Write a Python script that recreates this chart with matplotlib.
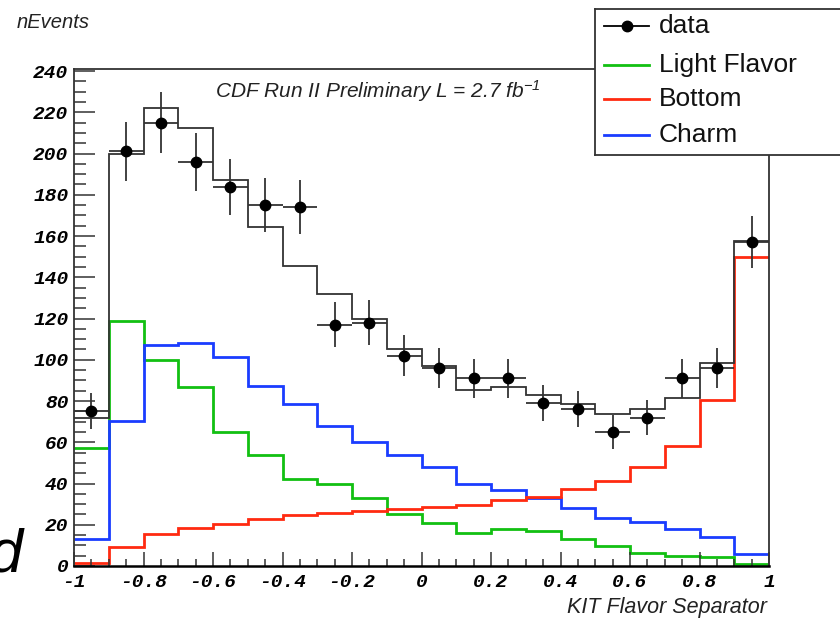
import numpy as np
import matplotlib
matplotlib.use("Agg")
import matplotlib.pyplot as plt
from matplotlib.ticker import MultipleLocator

plt.rcParams['mathtext.fontset'] = 'custom'
plt.rcParams['mathtext.rm'] = 'Liberation Sans:italic'
plt.rcParams['mathtext.it'] = 'Liberation Sans:italic'

# 20 bins of KIT flavor separator, -1 .. 1
edges = np.round(np.linspace(-1, 1, 21), 2)
light = [57, 119, 100, 87, 65, 54, 42, 40, 33, 25, 21, 16, 18, 17, 13, 9.5, 6.5, 5, 4.5, 1]
bottom = [1.6, 9.4, 15.5, 18.6, 20.4, 23, 24.6, 25.5, 26.7, 27.5, 28.8, 29.6, 32, 33.6, 37.5, 41.2, 47.8, 58, 80.5, 150]
charm = [13, 70.5, 107, 108, 101.5, 87.5, 78.5, 68, 60, 54, 48, 40, 37, 33, 28, 23.5, 21.5, 18, 14, 6]
mc_total = [71.6, 200, 222, 212.5, 187, 164.5, 145.6, 132, 119.6, 105, 97, 85.3, 86.6, 83, 78.5, 73.7, 76, 81.3, 98.3, 157.5]
data = [75, 201, 215, 196, 184, 175, 174, 117, 118, 102, 96, 91, 91, 79, 76, 65, 72, 91, 96, 157]
data_err = [8.7, 14.2, 14.7, 14.0, 13.6, 13.2, 13.2, 10.8, 10.9, 10.1, 9.8, 9.5, 9.5, 8.9, 8.7, 8.1, 8.5, 9.5, 9.8, 12.5]

GREEN = '#12c012'
RED = '#ff2a10'
BLUE = '#1a3cff'
DARK = '#333333'

fig = plt.figure(figsize=(8.4, 6.18), dpi=100)
ax = fig.add_axes([74/840, 1-566/618, 695/840, 497/618])

ax.stairs(light, edges, baseline=None, color=GREEN, lw=2.0)
ax.stairs(charm, edges, baseline=None, color=BLUE, lw=2.0)
ax.stairs(bottom, edges, baseline=None, color=RED, lw=2.0)
ax.stairs(mc_total, edges, baseline=None, color=DARK, lw=1.3)

centers = (edges[:-1] + edges[1:]) / 2
halfw = np.diff(edges) / 2
ax.errorbar(centers, data, xerr=halfw, yerr=data_err, fmt='o', color='black',
            ecolor=DARK, elinewidth=1.3, capsize=0, markersize=7.5, zorder=5)

ax.set_xlim(-1, 1)
ax.set_ylim(0, 241)
ax.xaxis.set_major_locator(MultipleLocator(0.2))
ax.xaxis.set_minor_locator(MultipleLocator(0.05))
ax.yaxis.set_major_locator(MultipleLocator(20))
ax.yaxis.set_minor_locator(MultipleLocator(5))
ax.xaxis.set_major_formatter(lambda v, p: '%g' % round(v, 2))
ax.tick_params(axis='both', which='both', direction='in', top=False, right=False, color=DARK)
ax.tick_params(axis='y', which='major', length=15, width=1.1, pad=4)
ax.tick_params(axis='y', which='minor', length=8.5, width=1.1)
ax.tick_params(axis='x', which='major', length=10, width=1.1, pad=6)
ax.tick_params(axis='x', which='minor', length=5, width=1.1)
for lab in ax.get_xticklabels() + ax.get_yticklabels():
    lab.set_fontfamily('Liberation Mono')
    lab.set_fontstyle('italic')
    lab.set_fontweight('bold')
    lab.set_fontsize(14)
for s in ax.spines.values():
    s.set_color(DARK)
    s.set_linewidth(1.3)
ax.spines['bottom'].set_color('black')
ax.spines['bottom'].set_linewidth(1.8)

ax.text(0.203, 0.955, r'CDF Run II Preliminary L = 2.7 fb$^{-1}$', transform=ax.transAxes,
        family='Liberation Sans', style='italic', fontsize=15, va='center', ha='left', color='#222222')

fig.text(17/840, 1-22/618, 'nEvents', family='Liberation Sans', style='italic',
         fontsize=14.5, va='center', ha='left', color='#222222')
fig.text(767/840, 1-607/618, 'KIT Flavor Separator', family='Liberation Sans', style='italic',
         fontsize=15.5, va='center', ha='right', color='#222222')
fig.text(23/840, 1-571/618, 'd', family='Liberation Sans', style='italic',
         fontsize=44, va='baseline', ha='right', color='black')

# legend box (runs off the right edge like the reference)
lg = fig.add_axes([595/840, 1-155/618, 300/840, 146/618], zorder=10)
lg.set_xlim(595, 895)
lg.set_ylim(155, 9)
lg.set_xticks([])
lg.set_yticks([])
for s in lg.spines.values():
    s.set_color(DARK)
    s.set_linewidth(1.3)
entries = [('data', 26, 'black'), ('Light Flavor', 65, GREEN),
           ('Bottom', 99, RED), ('Charm', 135, BLUE)]
for name, yy, col in entries:
    lg.plot([604, 649], [yy, yy], color=col, lw=2.0 if name != 'data' else 1.3)
    if name == 'data':
        lg.plot([627], [yy], 'o', color='black', markersize=7.5)
    lg.text(659, yy, name, family='Liberation Sans', fontsize=19, va='center', ha='left', color='#111111')

fig.savefig('out.png', dpi=100)
